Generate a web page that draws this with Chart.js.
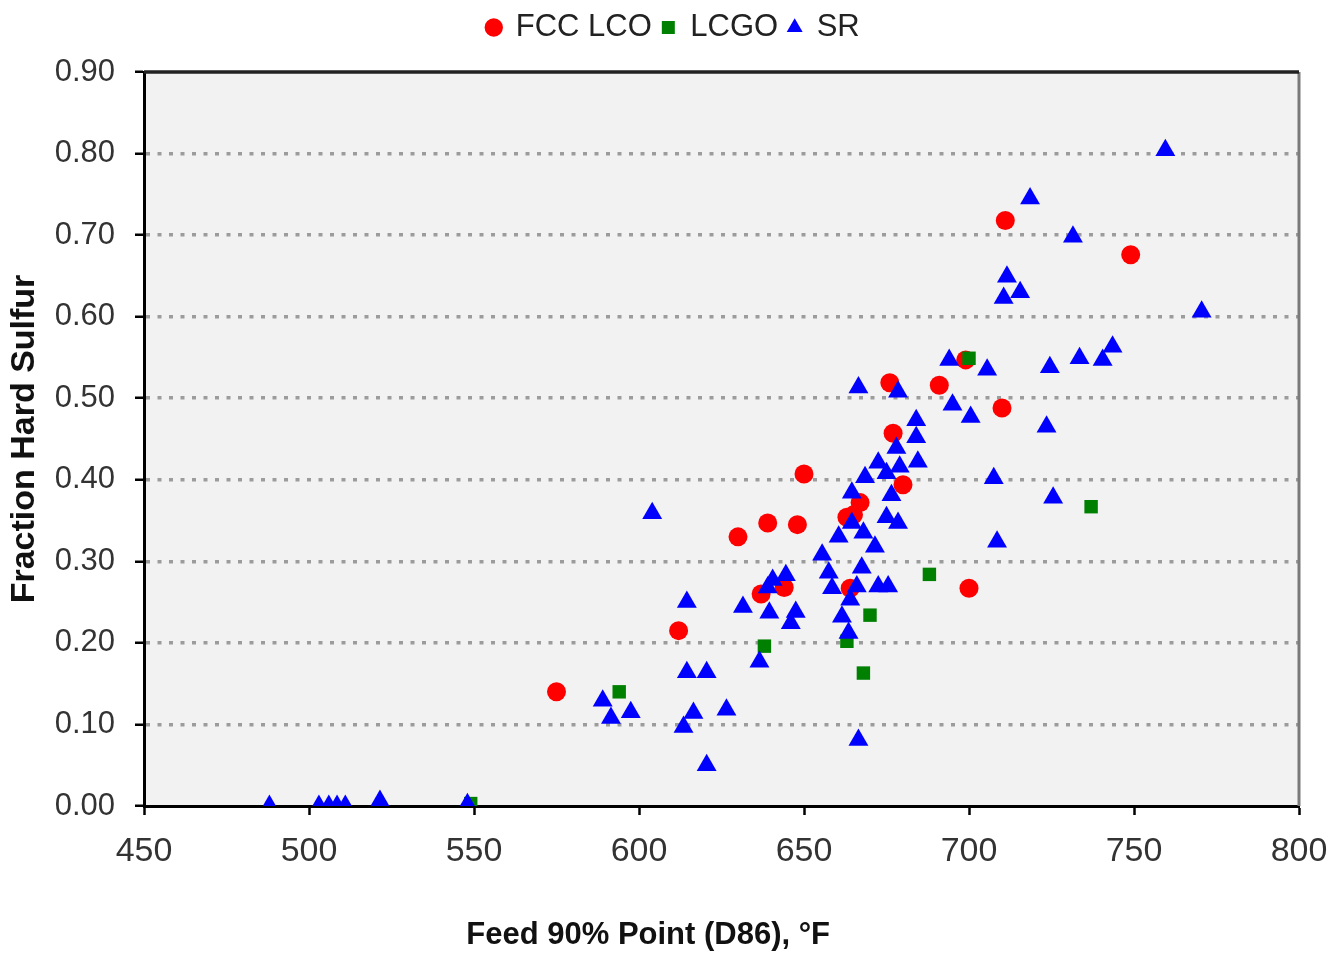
<!DOCTYPE html>
<html>
<head>
<meta charset="utf-8">
<script src="https://cdn.jsdelivr.net/npm/chart.js@4.4.1/dist/chart.umd.min.js"></script>
<style>
  body { margin: 0; background: #fff; overflow: hidden; }
  #wrap { width: 1338px; height: 953px; }
</style>
</head>
<body>
<div id="wrap"><canvas id="myChart"></canvas></div>
<script>
// values
const fccX = [575, 612, 630, 639, 648, 650, 637, 644, 663, 665, 667, 664, 676, 677, 680, 691, 699, 711, 710, 700, 749];
const fccY = [0.14, 0.215, 0.33, 0.347, 0.345, 0.407, 0.26, 0.268, 0.354, 0.357, 0.372, 0.267, 0.519, 0.457, 0.394, 0.516, 0.547, 0.718, 0.488, 0.267, 0.676];

const lcgoX = [549, 594, 638, 663, 670, 668, 688, 700, 737];
const lcgoY = [0.003, 0.14, 0.196, 0.202, 0.234, 0.163, 0.284, 0.549, 0.367];

const srX = [488, 503, 506, 508.5, 511, 521.5, 548, 589, 591.5, 597.5, 604, 614.5, 614.5, 620.5, 616.5, 613.5, 626.5, 620.5,
  631.5, 636.5, 639.5, 639, 640.5, 644.5, 647.5, 646, 655.5, 657.5, 658.5, 660.5, 661.5, 663.5, 664, 664.5, 664.5, 666,
  667.5, 668, 671.5, 672.5, 675.5, 675, 678.5, 676.5, 668.5, 672.5, 675, 679, 678, 666.5, 678.5, 684, 684, 684.5,
  694, 705.5, 695, 700.5, 707.5, 708.5, 723.5, 725.5, 724.5, 733.5, 740.5, 743.5, 710.5, 711.5, 715.5, 731.5, 718.5,
  759.5, 770.5, 666.5];
const srY = [0, 0, 0, 0, 0, 0.006, 0.002, 0.129, 0.108, 0.115, 0.359, 0.25, 0.164, 0.164, 0.114, 0.097, 0.118, 0.05,
  0.244, 0.177, 0.237, 0.268, 0.277, 0.283, 0.238, 0.224, 0.308, 0.286, 0.267, 0.33, 0.232, 0.212, 0.253, 0.347, 0.384, 0.269,
  0.292, 0.335, 0.318, 0.269, 0.269, 0.354, 0.347, 0.381, 0.403, 0.421, 0.408, 0.416, 0.439, 0.513, 0.508, 0.473, 0.452, 0.422,
  0.547, 0.535, 0.492, 0.477, 0.402, 0.324, 0.465, 0.378, 0.538, 0.549, 0.547, 0.563, 0.623, 0.649, 0.63, 0.698, 0.745,
  0.804, 0.606, 0.081];

const seriesNames = ["FCC LCO", "LCGO", "SR"];
const xTitle = "Feed 90% Point (D86), °F";
const yTitle = "Fraction Hard Sulfur";

function toPoints(xs, ys) {
  return xs.map((x, i) => ({ x: x, y: ys[i] }));
}

const font = "'Liberation Sans', Arial, sans-serif";

// grey plot background, top/right frame, x title (sits left of centre in the original)
const plotFrame = {
  id: "plotFrame",
  beforeDraw(chart) {
    const a = chart.chartArea;
    const ctx = chart.ctx;
    ctx.save();
    ctx.fillStyle = "#f2f2f2";
    ctx.fillRect(a.left, a.top, a.right - a.left, a.bottom - a.top);
    ctx.restore();
  },
  beforeDatasetsDraw(chart) {
    const a = chart.chartArea;
    const ctx = chart.ctx;
    ctx.save();
    ctx.lineWidth = 3;
    ctx.strokeStyle = "#7a7a7a";
    ctx.beginPath();
    ctx.moveTo(a.right, a.top);
    ctx.lineTo(a.right, a.bottom);
    ctx.stroke();
    ctx.strokeStyle = "#222";
    ctx.lineWidth = 3.5;
    ctx.beginPath();
    ctx.moveTo(a.left, a.top);
    ctx.lineTo(a.right, a.top);
    ctx.stroke();
    ctx.restore();
  },
  afterDraw(chart) {
    const ctx = chart.ctx;
    const xs = chart.scales.x;
    ctx.save();
    ctx.font = "bold 31px " + font;
    ctx.fillStyle = "#111";
    ctx.textAlign = "center";
    ctx.textBaseline = "middle";
    ctx.fillText(xTitle, xs.left + (xs.right - xs.left) * 0.4365, 935);
    ctx.restore();
  }
};

// make room between legend and plot, nudge legend right a bit
const legendGap = {
  id: "legendGap",
  beforeInit(chart) {
    const fit = chart.legend.fit;
    chart.legend.fit = function () {
      fit.bind(chart.legend)();
      this.height = 70;
    };
  },
  afterLayout(chart) {
    chart.legend.left += 22;
    chart.legend.right += 22;
  }
};

new Chart("myChart", {
  type: "scatter",
  data: {
    datasets: [
      {
        label: seriesNames[0],
        data: toPoints(fccX, fccY),
        pointStyle: "circle",
        pointRadius: 9.5,
        backgroundColor: "#ff0000",
        borderColor: "#ff0000",
        borderWidth: 0,
        order: 2
      },
      {
        label: seriesNames[1],
        data: toPoints(lcgoX, lcgoY),
        pointStyle: "rect",
        pointRadius: 9.5,
        backgroundColor: "#008000",
        borderColor: "#008000",
        borderWidth: 0,
        order: 1
      },
      {
        label: seriesNames[2],
        data: toPoints(srX, srY),
        pointStyle: "triangle",
        pointRadius: 11.5,
        backgroundColor: "#0000ff",
        borderColor: "#0000ff",
        borderWidth: 0,
        order: 0
      }
    ]
  },
  options: {
    responsive: true,
    maintainAspectRatio: false,
    animation: false,
    layout: { padding: { left: 4, right: 39, top: 2, bottom: 0 } },
    plugins: {
      tooltip: { enabled: false },
      legend: {
        position: "top",
        labels: {
          usePointStyle: true,
          boxWidth: 13,
          boxHeight: 13,
          padding: 10,
          color: "#222",
          font: { family: font, size: 31 },
          sort: (a, b) => a.datasetIndex - b.datasetIndex
        }
      }
    },
    scales: {
      x: {
        type: "linear",
        min: 450,
        max: 800,
        afterFit(scale) {
          scale.height = 147;
          scale.paddingLeft = 0;
          scale.paddingRight = 0;
        },
        ticks: {
          stepSize: 50,
          padding: 16,
          color: "#333",
          font: { family: font, size: 34 }
        },
        grid: {
          drawOnChartArea: false,
          drawTicks: true,
          tickLength: 9,
          tickWidth: 2.5,
          tickColor: "#000"
        },
        border: { display: true, color: "#000", width: 3 },
        title: { display: false, text: xTitle }
      },
      y: {
        min: 0,
        max: 0.9,
        afterFit(scale) { scale.width = 140; },
        ticks: {
          stepSize: 0.1,
          padding: 20,
          color: "#333",
          font: { family: font, size: 31 },
          callback: (v) => v.toFixed(2)
        },
        grid: {
          color: (ctx) => {
            const v = ctx.tick ? ctx.tick.value : 0;
            return (v < 0.001 || v > 0.899) ? "rgba(0,0,0,0)" : "#9c9c9c";
          },
          lineWidth: 3.5,
          tickLength: 9,
          tickWidth: 2.5,
          tickColor: "#000",
          tickBorderDash: []
        },
        border: { display: true, color: "#000", width: 3, dash: [4, 7.5] },
        title: {
          display: true,
          text: yTitle,
          color: "#111",
          padding: { top: 0, bottom: 0 },
          font: { family: font, size: 34, weight: "bold" }
        }
      }
    }
  },
  plugins: [plotFrame, legendGap]
});
</script>
</body>
</html>
